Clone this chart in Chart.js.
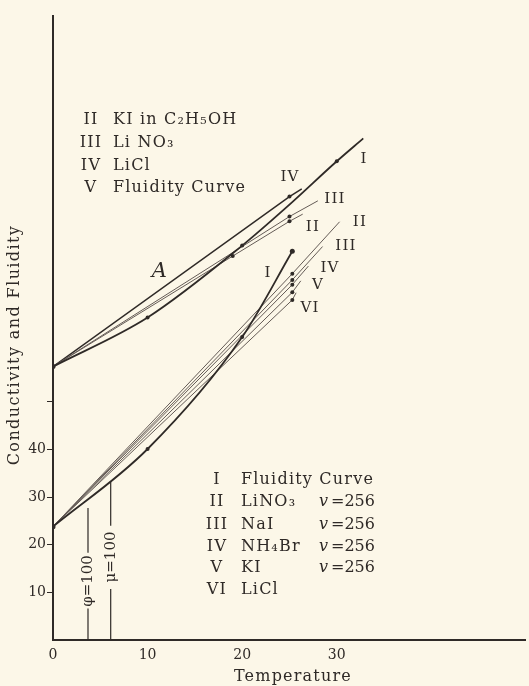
<!DOCTYPE html>
<html>
<head>
<meta charset="utf-8">
<script src="https://cdn.jsdelivr.net/npm/chart.js@4"></script>
<style>
  html, body { margin: 0; padding: 0; background: #fcf7e8; }
  #wrap { width: 529px; height: 686px; }
</style>
</head>
<body>
<div id="wrap"><canvas id="conductivityChart"></canvas></div>
<script>
// upper group (A): KI in alcohol etc.
const upperI_T = [0, 10, 20, 25, 30, 32.8];
const upperI_V = [57.4, 67.7, 82.8, 91.4, 100.5, 105.3];
const upperII_T = [0, 19, 25, 26.4];
const upperII_V = [57.4, 80.6, 87.9, 89.4];
const upperIII_T = [0, 25, 28];
const upperIII_V = [57.4, 88.9, 92.2];
const upperIV_T = [0, 25, 26.3];
const upperIV_V = [57.4, 93.1, 94.7];

// lower group: v = 256 solutions
const lowerI_T = [0, 10, 20, 25.3];
const lowerI_V = [23.8, 40.1, 63.6, 81.6];
const lowerII_T = [0, 25.3, 30.3];
const lowerII_V = [23.8, 76.9, 87.8];
const lowerIII_T = [0, 25.3, 28.5];
const lowerIII_V = [23.8, 75.6, 82.6];
const lowerIV_T = [0, 25.3, 27];
const lowerIV_V = [23.8, 74.6, 78.5];
const lowerV_T = [0, 25.3, 26.2];
const lowerV_V = [23.8, 73.0, 75.4];
const lowerVI_T = [0, 25.3, 25.7];
const lowerVI_V = [23.8, 71.4, 72.9];

// phi = 100 and mu = 100 markers (temperature, broken where the text sits)
const phiT = 3.7;
const phiV = [0, 6.6, null, 18.3, 27.7];
const muT = 6.1;
const muV = [0, 10.7, null, 24.0, 33.3];

const xTicks = [0, 10, 20, 30];
const yTicks = [10, 20, 30, 40, 50];
const yTickLabels = ['10', '20', '30', '40', ''];

const upperKey = [['II', 'KI in C\u2082H\u2085OH'], ['III', 'Li NO\u2083'], ['IV', 'LiCl'], ['V', 'Fluidity Curve']];
const lowerKey = [['I', 'Fluidity Curve', ''], ['II', 'LiNO\u2083', '256'], ['III', 'NaI', '256'],
                  ['IV', 'NH\u2084Br', '256'], ['V', 'KI', '256'], ['VI', 'LiCl', '']];

const ink = '#2f2a27';
const thin = '#645b56';
const serif = '"DejaVu Serif", serif';

function pts(t, v) {
    return t.map((x, i) => ({ x: x, y: v[i] }));
}
function vline(x, v) {
    return v.map(y => ({ x: x, y: y }));
}
function line(data, opts) {
    return Object.assign({
        data: data,
        showLine: true,
        borderColor: thin,
        backgroundColor: ink,
        borderWidth: 1,
        pointRadius: 0,
        pointBorderWidth: 0,
        spanGaps: false
    }, opts);
}

const datasets = [
    line(pts(upperI_T, upperI_V), { borderColor: ink, borderWidth: 1.8, cubicInterpolationMode: 'monotone', pointRadius: [2.5, 2, 2, 0, 2, 0] }),
    line(pts(upperII_T, upperII_V), { pointRadius: [0, 2, 2, 0] }),
    line(pts(upperIII_T, upperIII_V), { pointRadius: [0, 2, 0] }),
    line(pts(upperIV_T, upperIV_V), { borderColor: ink, borderWidth: 1.5, pointRadius: [0, 2, 0] }),
    line(pts(lowerI_T, lowerI_V), { borderColor: ink, borderWidth: 1.8, cubicInterpolationMode: 'monotone', pointRadius: [2.5, 2, 2, 2.5] }),
    line(pts(lowerII_T, lowerII_V), { pointRadius: [0, 2, 0] }),
    line(pts(lowerIII_T, lowerIII_V), { pointRadius: [0, 2, 0] }),
    line(pts(lowerIV_T, lowerIV_V), { pointRadius: [0, 2, 0] }),
    line(pts(lowerV_T, lowerV_V), { pointRadius: [0, 2, 0] }),
    line(pts(lowerVI_T, lowerVI_V), { pointRadius: [0, 2, 0] }),
    line(vline(phiT, phiV), { borderColor: ink, borderWidth: 1.2 }),
    line(vline(muT, muV), { borderColor: ink, borderWidth: 1.2 })
];

// all the labels printed on the figure
const labelsPlugin = {
    id: 'figureText',
    afterDatasetsDraw(chart) {
        const c = chart.ctx;
        c.save();
        c.fillStyle = ink;
        c.textBaseline = 'middle';
        c.letterSpacing = '1.2px';

        c.font = '16px ' + serif;
        upperKey.forEach((row, i) => {
            const y = 120 + i * 22.7;
            c.textAlign = 'center';
            c.fillText(row[0], 91, y);
            c.textAlign = 'left';
            c.fillText(row[1], 113, y);
        });
        const lowY = [480, 502, 525, 547, 568, 590];
        lowerKey.forEach((row, i) => {
            c.textAlign = 'center';
            c.fillText(row[0], 217, lowY[i]);
            c.textAlign = 'left';
            c.fillText(row[1], 241, lowY[i]);
            if (row[2]) {
                c.letterSpacing = '0px';
                c.font = 'italic 16px ' + serif;
                c.fillText('v', 319, lowY[i]);
                c.font = '16px ' + serif;
                c.fillText('=' + row[2], 331, lowY[i]);
                c.letterSpacing = '1.2px';
            }
        });

        // curve labels
        c.textAlign = 'center';
        c.font = '15px ' + serif;
        [['I', 364, 159], ['IV', 290, 177], ['III', 335, 199], ['II', 313, 227],
         ['II', 360, 222], ['III', 346, 246], ['IV', 330, 268], ['V', 318, 285],
         ['VI', 310, 308], ['I', 268, 273]].forEach(l => c.fillText(l[0], l[1], l[2]));
        c.font = 'italic 21px ' + serif;
        c.fillText('A', 160, 272);

        // vertical phi / mu labels
        c.letterSpacing = '0px';
        c.font = '15px ' + serif;
        [['\u03C6=100', 88, 581], ['\u03BC=100', 111, 557]].forEach(l => {
            c.save();
            c.translate(l[1], l[2]);
            c.rotate(-Math.PI / 2);
            c.fillText(l[0], 0, 0);
            c.restore();
        });

        // axis titles
        c.font = '16px ' + serif;
        c.letterSpacing = '1.2px';
        c.fillText('Temperature', 293, 677);
        c.save();
        c.translate(15, 345);
        c.rotate(-Math.PI / 2);
        c.letterSpacing = '1.4px';
        c.fillText('Conductivity and Fluidity', 0, 0);
        c.restore();
        c.restore();
    }
};

new Chart(document.getElementById('conductivityChart'), {
    type: 'scatter',
    data: { datasets: datasets },
    options: {
        responsive: true,
        maintainAspectRatio: false,
        animation: false,
        layout: { padding: { top: 16, right: 0, left: 0, bottom: 0 } },
        plugins: { legend: { display: false }, tooltip: { enabled: false } },
        scales: {
            x: {
                type: 'linear',
                min: 0,
                max: 49.9,
                afterBuildTicks: s => { s.ticks = xTicks.map(v => ({ value: v })); },
                afterFit: s => { s.height = 46; },
                grid: { display: true, drawOnChartArea: false, drawTicks: false },
                border: { color: ink, width: 2 },
                ticks: { color: ink, padding: 7, font: { family: serif, size: 14 } }
            },
            y: {
                min: 0,
                max: 131,
                afterBuildTicks: s => { s.ticks = yTicks.map(v => ({ value: v })); },
                afterFit: s => { s.width = 53; },
                grid: { display: true, drawOnChartArea: false, tickLength: 6, color: ink, tickWidth: 1 },
                border: { color: ink, width: 2 },
                ticks: {
                    color: ink,
                    padding: 1,
                    font: { family: serif, size: 14 },
                    callback: (v, i) => yTickLabels[i]
                }
            }
        }
    },
    plugins: [labelsPlugin]
});
</script>
</body>
</html>
